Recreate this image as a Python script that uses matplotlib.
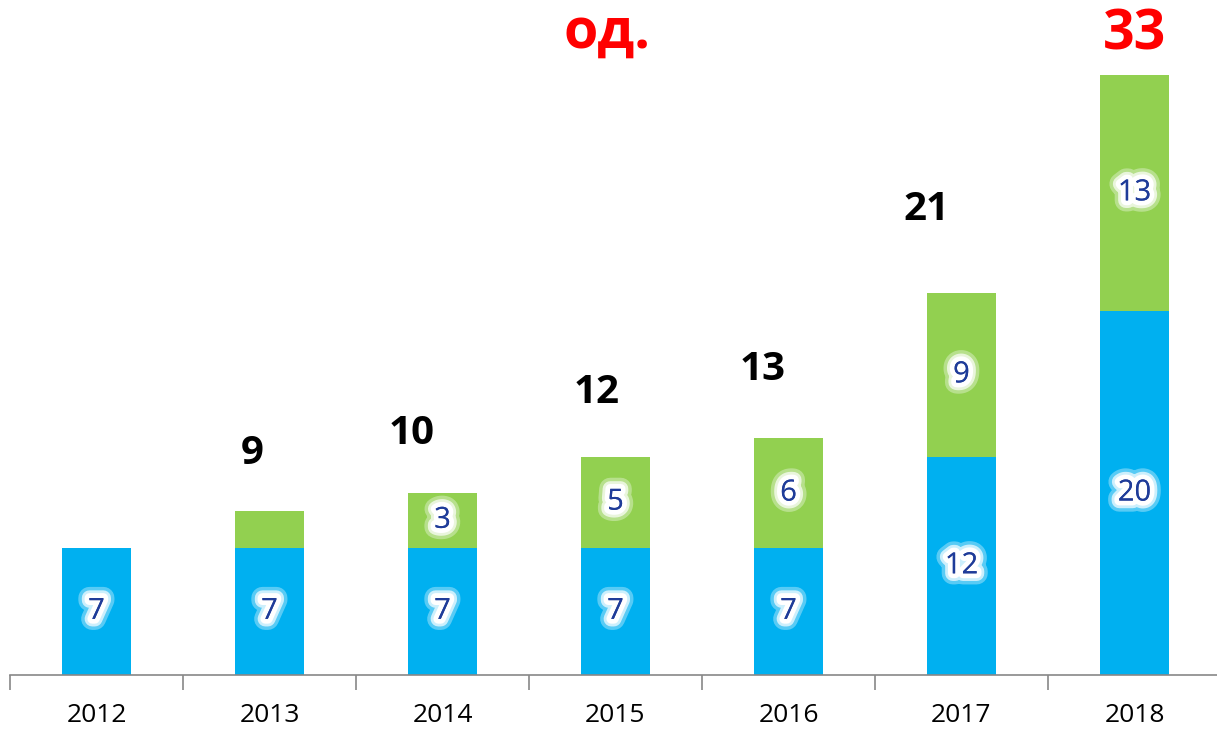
import matplotlib.pyplot as plt
import matplotlib.patheffects as pe
import numpy as np

plt.rcParams['font.family'] = ['Open Sans', 'DejaVu Sans']

years = ['2012', '2013', '2014', '2015', '2016', '2017', '2018']
blue_vals = [7, 7, 7, 7, 7, 12, 20]
green_vals = [0, 2, 3, 5, 6, 9, 13]
totals = [None, 9, 10, 12, 13, 21, 33]
unit_text = 'од.'

# label placement (offsets from bar centre / bar top, in data units)
total_dx = [0, -0.10, -0.18, -0.11, -0.15, -0.20, 0.0]
total_dy = [0, 3.2, 3.3, 3.5, 3.8, 4.6, 2.2]

blue = '#00B0F0'
green = '#92D050'
num_color = '#1F3C99'

fig = plt.figure(figsize=(12.17, 7.3), dpi=100)
ax = fig.add_axes([10 / 1217, 55 / 730, 1211 / 1217, 675 / 730])

x = np.arange(len(years))
b1 = ax.bar(x, blue_vals, width=0.4, color=blue, zorder=2)
b2 = ax.bar(x, green_vals, width=0.4, bottom=blue_vals, color=green, zorder=2)

glow = [pe.withStroke(linewidth=16, foreground='white', alpha=0.35),
        pe.withStroke(linewidth=11, foreground='white', alpha=0.7),
        pe.withStroke(linewidth=7, foreground='white'),
        pe.Normal()]

ax.bar_label(b1, labels=[str(v) for v in blue_vals], label_type='center',
             fontsize=21, color=num_color, path_effects=glow)
ax.bar_label(b2, labels=[str(v) if v > 2 else '' for v in green_vals],
             label_type='center', fontsize=21, color=num_color,
             path_effects=glow)

for i, t in enumerate(totals):
    if t is None:
        continue
    red = i == len(totals) - 1
    ax.text(i + total_dx[i], t + total_dy[i], str(t), ha='center', va='center',
            fontsize=40 if red else 29, fontweight='bold',
            color='red' if red else 'black')

ax.text(2.95, 35.3, unit_text, ha='center', va='center', fontsize=40,
        fontweight='bold', color='red')

ax.set_xlim(-0.5, 6.5)
ax.set_ylim(0, 37.1)
ax.set_xticks(x)
ax.set_xticklabels(years, fontsize=19)
ax.set_xticks(np.arange(-0.5, 7, 1), minor=True)
ax.tick_params(axis='x', which='major', length=0, pad=20)
ax.tick_params(axis='x', which='minor', length=11, color='#888888', width=1.2)
ax.set_yticks([])
for s in ['top', 'right', 'left']:
    ax.spines[s].set_visible(False)
ax.spines['bottom'].set_color('#888888')
ax.spines['bottom'].set_linewidth(1.2)

fig.savefig('out.png', dpi=100)
